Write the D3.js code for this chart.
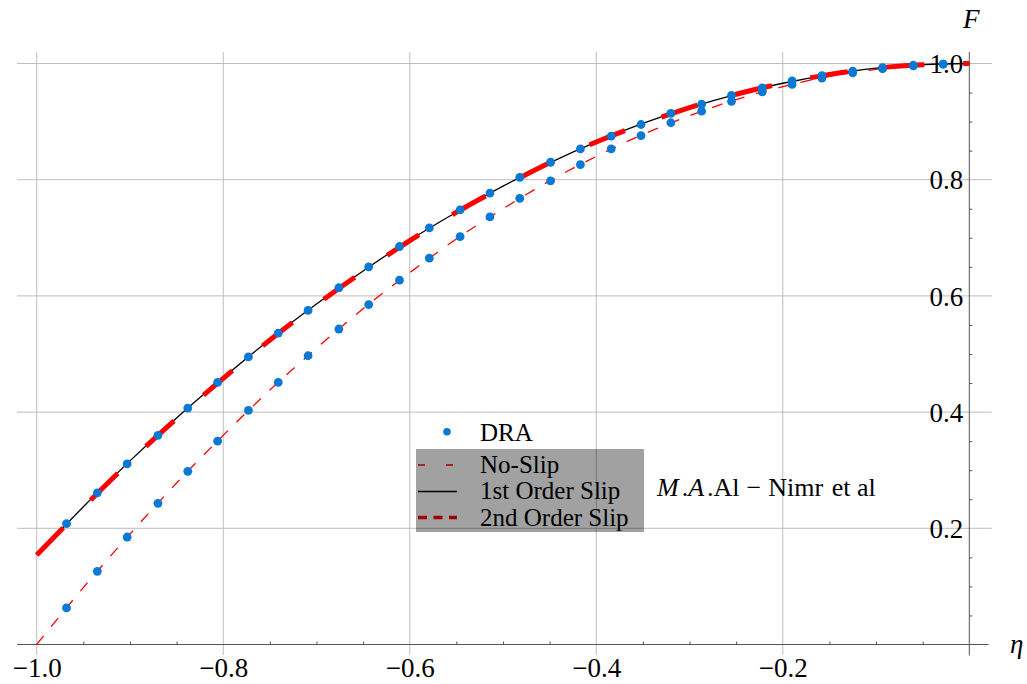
<!DOCTYPE html>
<html><head><meta charset="utf-8">
<script src="https://cdn.jsdelivr.net/npm/d3@7"></script>
<style>
html,body{margin:0;padding:0;background:#fff;}
svg{display:block;}
text{font-family:"Liberation Serif","Times New Roman",serif;fill:#000;}
</style>
</head><body>
<svg id="c" width="1027" height="684"></svg>
<script>
// ---------- data ----------
const xMajorTicks = [-1.0, -0.8, -0.6, -0.4, -0.2];
const xTickLabels = ["\u22121.0", "\u22120.8", "\u22120.6", "\u22120.4", "\u22120.2"];
const yMajorTicks = [0.2, 0.4, 0.6, 0.8, 1.0];
const yTickLabels = ["0.2", "0.4", "0.6", "0.8", "1.0"];
const xMinorTicks = [-0.95, -0.9, -0.85, -0.75, -0.7, -0.65, -0.55, -0.5, -0.45, -0.35, -0.3, -0.25, -0.15, -0.1, -0.05];
const yMinorTicks = [0.05, 0.1, 0.15, 0.25, 0.3, 0.35, 0.45, 0.5, 0.55, 0.65, 0.7, 0.75, 0.85, 0.9, 0.95];

const etaCurve = [-1.00, -0.95, -0.90, -0.85, -0.80, -0.75, -0.70, -0.65, -0.60, -0.55, -0.50,
                  -0.45, -0.40, -0.35, -0.30, -0.25, -0.20, -0.15, -0.10, -0.05, 0.00];
const noSlip = [0.000, 0.098, 0.190, 0.278, 0.360, 0.438, 0.510, 0.578, 0.640, 0.698, 0.750,
                0.798, 0.840, 0.878, 0.910, 0.938, 0.960, 0.978, 0.990, 0.998, 1.000];
const firstOrderSlip = [0.155, 0.237, 0.316, 0.390, 0.459, 0.525, 0.586, 0.643, 0.696, 0.744, 0.789,
                        0.829, 0.865, 0.897, 0.924, 0.947, 0.966, 0.981, 0.992, 0.998, 1.000];
const secondOrderSlip = [0.154, 0.236, 0.315, 0.389, 0.458, 0.524, 0.585, 0.642, 0.695, 0.744, 0.788,
                         0.829, 0.865, 0.896, 0.924, 0.947, 0.966, 0.981, 0.992, 0.998, 1.000];

const etaDRA = [-0.968, -0.935, -0.903, -0.870, -0.838, -0.806, -0.773, -0.741, -0.709, -0.676,
                -0.644, -0.611, -0.579, -0.546, -0.514, -0.482, -0.449, -0.417, -0.384, -0.352,
                -0.320, -0.287, -0.255, -0.222, -0.190, -0.158, -0.125, -0.093, -0.060, -0.028];
const draNoSlip = [0.063, 0.126, 0.185, 0.243, 0.298, 0.350, 0.403, 0.451, 0.497, 0.543,
                   0.585, 0.627, 0.665, 0.702, 0.736, 0.768, 0.798, 0.826, 0.853, 0.876,
                   0.898, 0.918, 0.935, 0.951, 0.964, 0.975, 0.984, 0.991, 0.996, 0.999];
const draSlip = [0.208, 0.261, 0.311, 0.360, 0.407, 0.451, 0.495, 0.536, 0.575, 0.614,
                 0.650, 0.685, 0.717, 0.748, 0.777, 0.804, 0.830, 0.853, 0.875, 0.895,
                 0.914, 0.930, 0.945, 0.958, 0.970, 0.979, 0.987, 0.993, 0.997, 0.999];

const legendLabels = ["No-Slip", "1st Order Slip", "2nd Order Slip"];

// ---------- setup ----------
const svg = d3.select("#c");
const x = d3.scaleLinear().domain([-1, 0]).range([36.7, 969.3]);
const y = d3.scaleLinear().domain([0, 1]).range([644.5, 63.5]);
const X0 = -1.021, X1grid = 0.0243, X1axis = 0.0207, Y0 = -0.019, Y1 = 1.0198;

const RED = "#ff0000", BLUE = "#0a79d3", GRID = "#bdbdbd", AXIS = "#555555";

// grid
const g = svg.append("g");
g.selectAll("line.v").data(xMajorTicks).join("line")
  .attr("x1", d => x(d)).attr("x2", d => x(d))
  .attr("y1", y(Y1)).attr("y2", y(-0.018))
  .attr("stroke", GRID).attr("stroke-width", 1);
g.selectAll("line.h").data(yMajorTicks).join("line")
  .attr("x1", x(X0)).attr("x2", x(X1grid))
  .attr("y1", d => y(d)).attr("y2", d => y(d))
  .attr("stroke", GRID).attr("stroke-width", 1);

// axes lines
svg.append("line").attr("x1", x(X0)).attr("x2", x(X1axis)).attr("y1", y(0)).attr("y2", y(0))
  .attr("stroke", AXIS).attr("stroke-width", 1);
svg.append("line").attr("x1", x(0)).attr("x2", x(0)).attr("y1", y(Y1)).attr("y2", y(Y0))
  .attr("stroke", AXIS).attr("stroke-width", 1);

// minor ticks
const xMinorAxis = svg.append("g").attr("transform", `translate(0,${y(0)})`)
  .call(d3.axisBottom(x).tickValues(xMinorTicks).tickSize(-3).tickFormat(""));
xMinorAxis.select(".domain").remove();
xMinorAxis.selectAll("line").attr("stroke", AXIS);

const yMinorAxis = svg.append("g").attr("transform", `translate(${x(0)},0)`)
  .call(d3.axisRight(y).tickValues(yMinorTicks).tickSize(3).tickFormat(""));
yMinorAxis.select(".domain").remove();
yMinorAxis.selectAll("line").attr("stroke", AXIS);

// tick labels
const xLab = svg.append("g").attr("transform", `translate(0,${y(0)})`)
  .call(d3.axisBottom(x).tickValues(xMajorTicks).tickSize(0)
        .tickFormat((d, i) => xTickLabels[i]));
xLab.select(".domain").remove();
xLab.selectAll("text").attr("dy", null).attr("y", 32.5)
  .style("font-family", '"Liberation Serif","Times New Roman",serif')
  .style("font-size", "27px").attr("fill", "#000");

const yLab = svg.append("g").attr("transform", `translate(${x(0)},0)`)
  .call(d3.axisLeft(y).tickValues(yMajorTicks).tickSize(0).tickPadding(6)
        .tickFormat((d, i) => yTickLabels[i]));
yLab.select(".domain").remove();
yLab.selectAll("text").attr("dy", "0.34em")
  .style("font-family", '"Liberation Serif","Times New Roman",serif')
  .style("font-size", "27px").attr("fill", "#000");

// axis titles
svg.append("text").attr("x", 963).attr("y", 28.3).attr("font-size", 27)
  .attr("font-style", "italic").text("F");
svg.append("text").attr("x", 1010).attr("y", 653).attr("font-size", 27)
  .attr("font-style", "italic").text("\u03b7");

// curves
const line = d3.line().x(d => x(d[0])).y(d => y(d[1])).curve(d3.curveNatural);
const pts = arr => etaCurve.map((e, i) => [e, arr[i]]);

svg.append("path").datum(pts(noSlip)).attr("d", line)
  .attr("fill", "none").attr("stroke", RED).attr("stroke-width", 1.3)
  .attr("stroke-dasharray", "11,12");
svg.append("path").datum(pts(firstOrderSlip)).attr("d", line)
  .attr("fill", "none").attr("stroke", "#000").attr("stroke-width", 1.3);
svg.append("path").datum(pts(secondOrderSlip)).attr("d", line)
  .attr("fill", "none").attr("stroke", RED).attr("stroke-width", 5)
  .attr("stroke-dasharray", "38,39");

// DRA points
svg.append("g").selectAll("circle.a").data(etaDRA.map((e, i) => [e, draNoSlip[i]])).join("circle")
  .attr("cx", d => x(d[0])).attr("cy", d => y(d[1])).attr("r", 4.4).attr("fill", BLUE);
svg.append("g").selectAll("circle.b").data(etaDRA.map((e, i) => [e, draSlip[i]])).join("circle")
  .attr("cx", d => x(d[0])).attr("cy", d => y(d[1])).attr("r", 4.4).attr("fill", BLUE);

// legend
const lg = svg.append("g");
lg.append("circle").attr("cx", 447).attr("cy", 431.7).attr("r", 3.8).attr("fill", BLUE);
lg.append("text").attr("x", 480).attr("y", 441).attr("font-size", 25).text("DRA");
lg.append("line").attr("x1", 418).attr("x2", 457).attr("y1", 465).attr("y2", 465)
  .attr("stroke", RED).attr("stroke-width", 1.3).attr("stroke-dasharray", "7,21");
lg.append("line").attr("x1", 418).attr("x2", 457).attr("y1", 491.5).attr("y2", 491.5)
  .attr("stroke", "#000").attr("stroke-width", 1.3);
lg.append("line").attr("x1", 418).attr("x2", 457).attr("y1", 517.5).attr("y2", 517.5)
  .attr("stroke", RED).attr("stroke-width", 3.5).attr("stroke-dasharray", "9,6.5");
lg.append("rect").attr("x", 416).attr("y", 449).attr("width", 228).attr("height", 83)
  .attr("fill", "#000").attr("fill-opacity", 0.37);
const legY = [472.5, 499, 526];
lg.selectAll("text.l").data(legendLabels).join("text")
  .attr("x", 480).attr("y", (d, i) => legY[i]).attr("font-size", 25).text(d => d);

// annotation
const ann = svg.append("text").attr("x", 657).attr("y", 496).attr("font-size", 26);
ann.append("tspan").attr("font-style", "italic").text("M");
ann.append("tspan").attr("dx", 3).text(".");
ann.append("tspan").attr("font-style", "italic").text("A");
ann.append("tspan").attr("dx", 3).text(".Al");
ann.append("tspan").attr("dx", 7).text("\u2212");
ann.append("tspan").attr("dx", 7).text("Nimr");
ann.append("tspan").attr("dx", 2).text(" et al");
</script>
</body></html>
